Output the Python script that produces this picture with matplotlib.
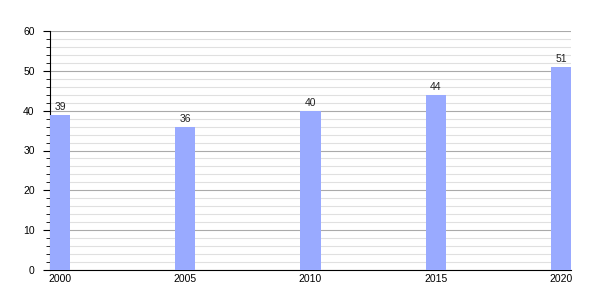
import matplotlib
matplotlib.use("Agg")
import matplotlib.pyplot as plt
from matplotlib.ticker import MultipleLocator

years = ["2000", "2005", "2010", "2015", "2020"]
values = [39, 36, 40, 44, 51]

plt.rcParams['font.family'] = ['Liberation Sans', 'DejaVu Sans']
fig = plt.figure(figsize=(6, 3), dpi=100)
ax = fig.add_axes([50/600, 30/300, 521/600, 239/300])
w = 0.16
x = list(range(len(years)))
bars = ax.bar(x, values, width=w, color="#99aaff", zorder=3)
for xi, v in zip(x, values):
    ax.text(xi, v + 0.6, str(v), ha="center", va="bottom", fontsize=7.5, color="#222222", zorder=4)
ax.set_xlim(-w/2, len(years) - 1 + w/2)
ax.set_ylim(0, 60)
ax.set_xticks(x)
ax.set_xticklabels(years, fontsize=7.5)
ax.tick_params(axis="x", length=0, pad=3)
ax.yaxis.set_major_locator(MultipleLocator(10))
ax.yaxis.set_minor_locator(MultipleLocator(2))
ax.tick_params(axis="y", which="major", length=5, labelsize=7.5, direction="out", pad=6)
ax.tick_params(axis="y", which="minor", length=3, direction="out")
ax.grid(axis="y", which="major", color="#aaaaaa", linewidth=0.8, zorder=0)
ax.grid(axis="y", which="minor", color="#e0e0e0", linewidth=0.8, zorder=0)
for s in ["top", "right"]:
    ax.spines[s].set_visible(False)
ax.spines["left"].set_color("black")
ax.spines["bottom"].set_color("black")
fig.savefig("out.png", dpi=100)
